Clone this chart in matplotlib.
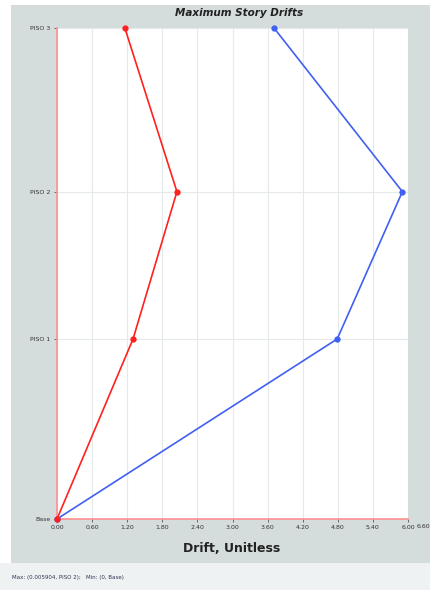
import matplotlib
matplotlib.use("Agg")
import matplotlib.pyplot as plt
from matplotlib.patches import Rectangle
import numpy as np

# Story levels and elevations (m)
stories = ["Base", "PISO 1", "PISO 2", "PISO 3"]
elevations = [0.0, 3.3, 6.0, 9.0]

# Maximum story drifts (unitless) for the two load cases
drift_x = [0.0, 0.00130, 0.00205, 0.00116]
drift_y = [0.0, 0.00479, 0.005904, 0.00371]

x_ticks = [0.0, 0.6, 1.2, 1.8, 2.4, 3.0, 3.6, 4.2, 4.8, 5.4, 6.0]

W, H = 431, 590
fig = plt.figure(figsize=(W / 100, H / 100), dpi=100)
fig.patch.set_facecolor("white")

# grey panel behind the chart and light status strip below it
fig.patches.append(Rectangle((11 / W, 27 / H), 1 - 11 / W, (563 - 5) / H,
                             transform=fig.transFigure, facecolor="#d5dcdc",
                             edgecolor="none", zorder=-10))
fig.patches.append(Rectangle((0, 0), 1, 27 / H, transform=fig.transFigure,
                             facecolor="#eef2f2", edgecolor="none", zorder=-10))

ax = fig.add_axes([57 / W, (H - 519) / H, (408 - 57) / W, (519 - 28) / H])
ax.set_zorder(1)
ax.set_facecolor("white")

scale = 1000.0
ax.plot(np.array(drift_y) * scale, elevations, color="#4060f2", lw=1.2,
        marker="o", ms=3.5, zorder=3, clip_on=False)
ax.plot(np.array(drift_x) * scale, elevations, color="#ff2020", lw=1.2,
        marker="o", ms=3.5, zorder=4, clip_on=False)

ax.set_xlim(0, 6.0)
ax.set_ylim(0, 9.0)
ax.set_xticks(x_ticks)
ax.set_xticklabels([f"{v:.2f}" for v in x_ticks], fontsize=4.5, color="#333333")
ax.set_yticks(elevations)
ax.set_yticklabels(stories, fontsize=4.5, color="#333333")
ax.tick_params(axis="both", length=2.5, width=0.6, color="#555555", pad=2)

ax.grid(True, color="#e4eaea", lw=0.8)
ax.set_axisbelow(True)
for side in ["top", "right"]:
    ax.spines[side].set_visible(False)
ax.spines["left"].set_color("#ff9090")
ax.spines["bottom"].set_color("#ff9090")
ax.spines["left"].set_linewidth(1.2)
ax.spines["bottom"].set_linewidth(1.2)

fig.text(239 / W, 1 - 13 / H, "Maximum Story Drifts", ha="center", va="center",
         fontsize=7.5, fontweight="bold", fontstyle="italic", color="#222222")
fig.text(232 / W, 1 - 549 / H, "Drift, Unitless", ha="center", va="center",
         fontsize=9, fontweight="bold", color="#222222")
fig.text(417 / W, 1 - 527 / H, "6.60", ha="left", va="center",
         fontsize=4.5, color="#333333")

i_max = int(np.argmax(drift_y))
fig.text(12 / W, 1 - 578 / H,
         f"Max: ({drift_y[i_max]:.6f}, {stories[i_max]});   Min: (0, {stories[0]})",
         ha="left", va="center", fontsize=4, color="#333355")

fig.savefig("out.png", dpi=100)
